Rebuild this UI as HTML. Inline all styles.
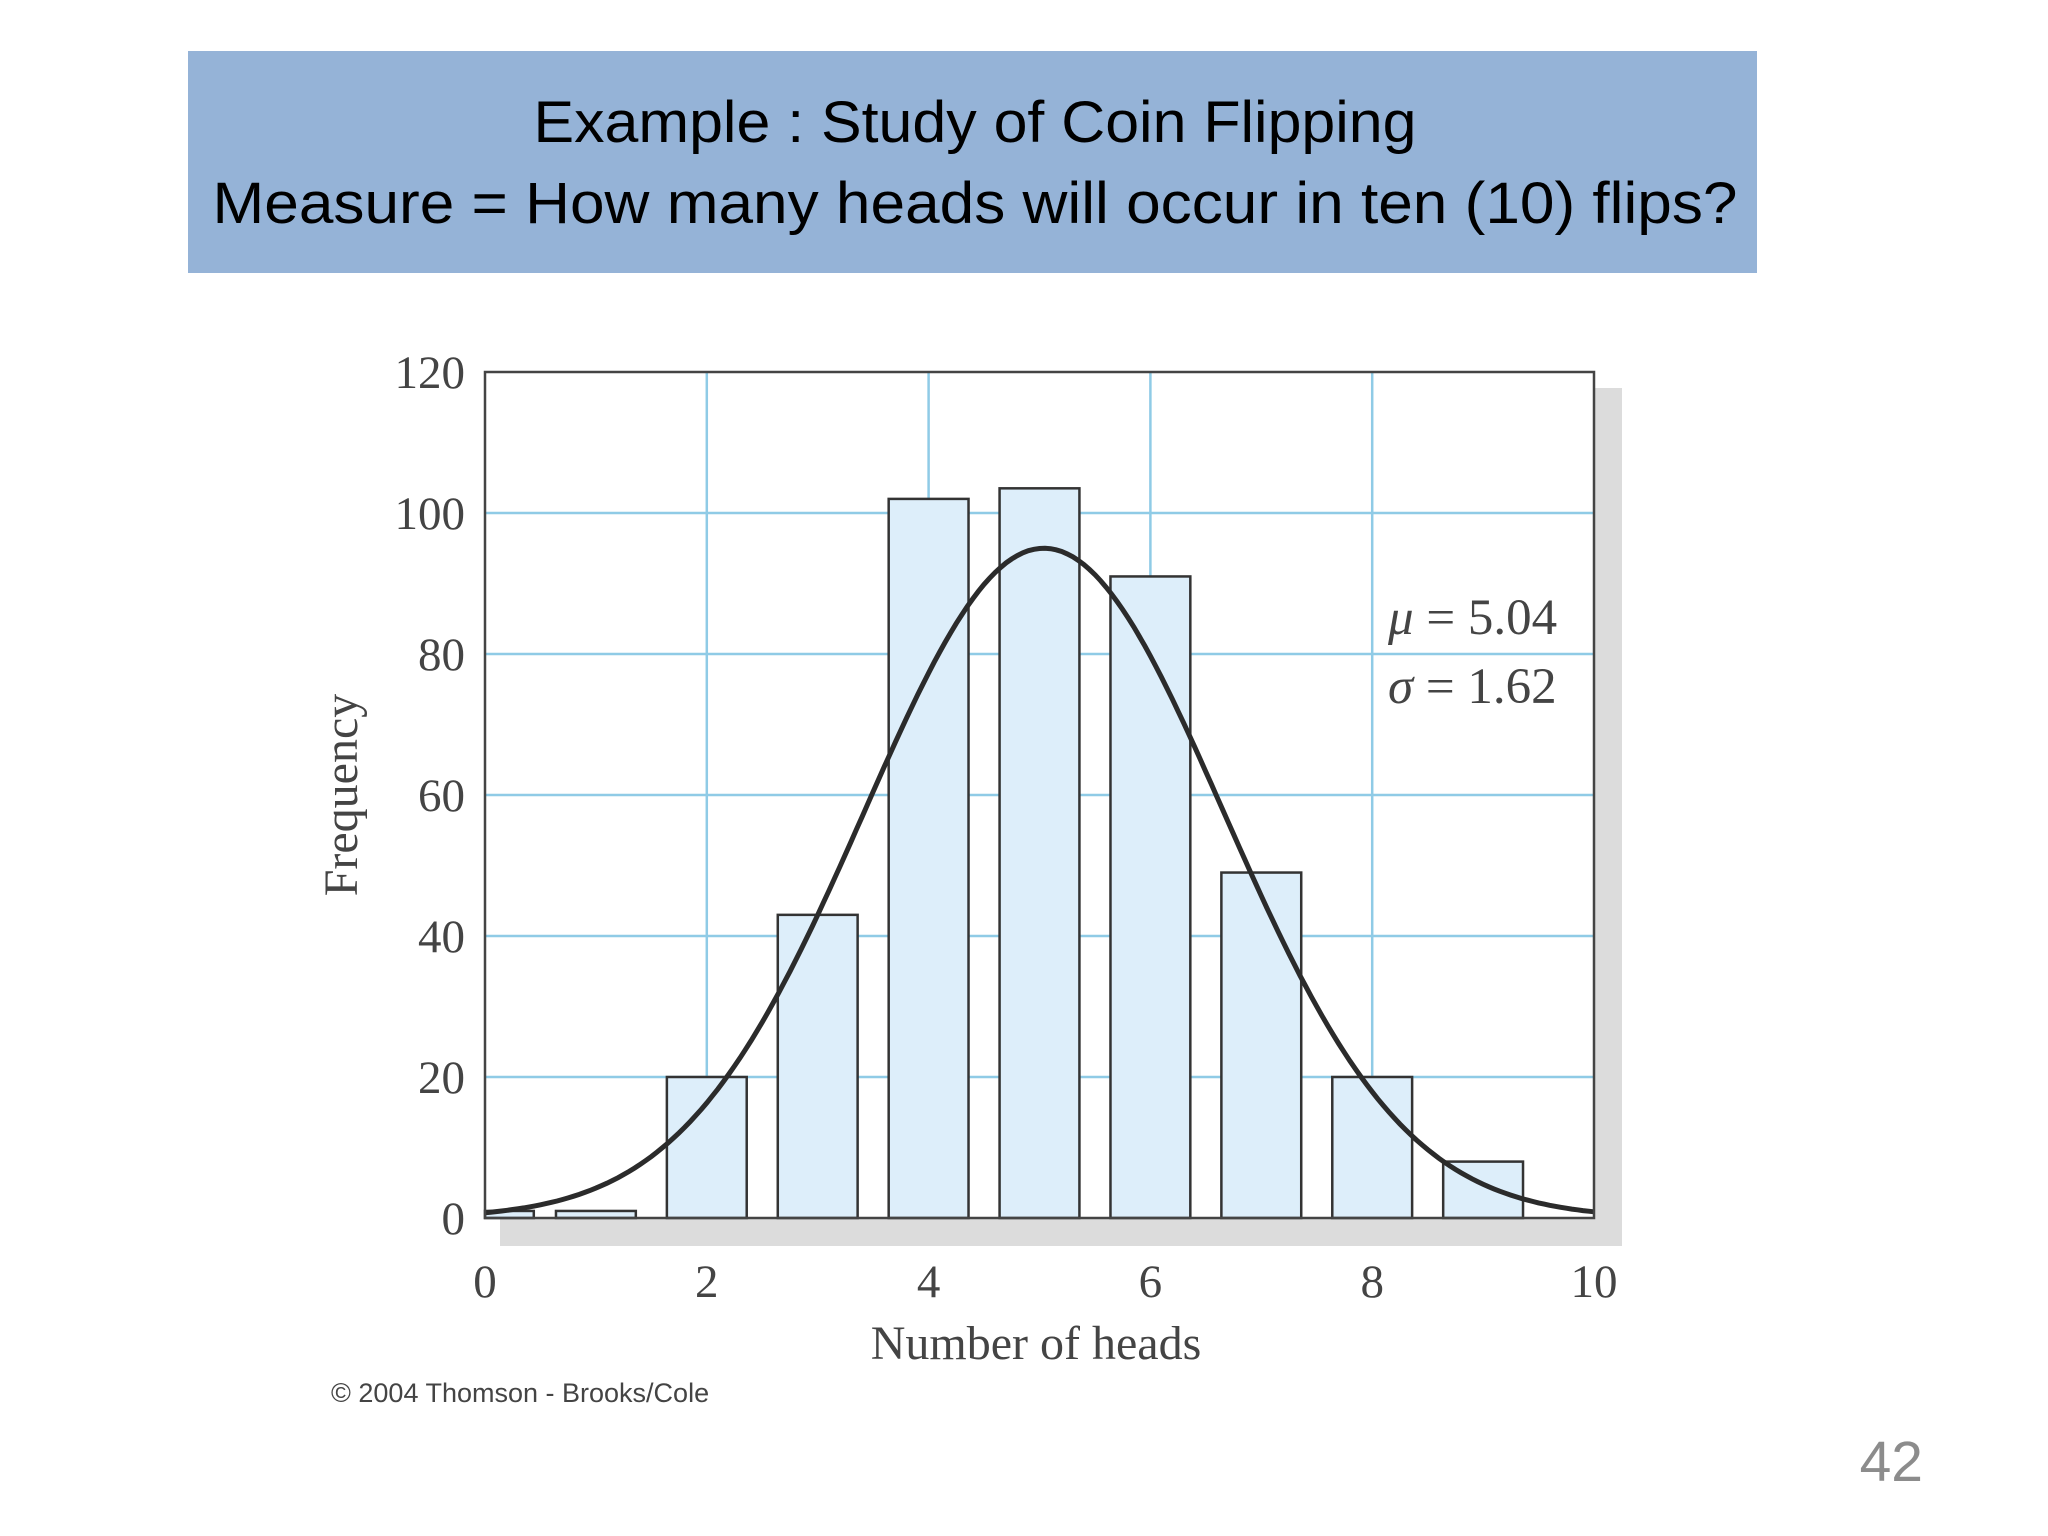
<!DOCTYPE html>
<html><head><meta charset="utf-8"><style>body{margin:0;background:#fff}svg{display:block}</style></head>
<body>
<svg id="c" width="2048" height="1536" xmlns="http://www.w3.org/2000/svg">
<rect x="188" y="51" width="1569" height="222" fill="#95b3d7"/>
<text x="975" y="142" text-anchor="middle" font-family="Liberation Sans, sans-serif" font-size="58" textLength="883" lengthAdjust="spacingAndGlyphs">Example : Study of Coin Flipping</text>
<text x="975" y="223" text-anchor="middle" font-family="Liberation Sans, sans-serif" font-size="58" textLength="1525" lengthAdjust="spacingAndGlyphs">Measure = How many heads will occur in ten (10) flips?</text>
<rect x="500" y="388" width="1122" height="858" fill="#dcdcdc"/>
<rect x="485" y="372" width="1109" height="846" fill="#fff"/>
<g id="grid"></g>
<g id="bars"></g>
<path id="curve" fill="none" stroke="#2b2b2b" stroke-width="5"/>
<rect x="485" y="372" width="1109" height="846" fill="none" stroke="#444" stroke-width="2.5"/>
<g id="ticks" font-family="Liberation Serif, serif" font-size="47" fill="#444"></g>
<text x="1388" y="634" font-family="Liberation Serif, serif" font-size="51" fill="#444"><tspan font-style="italic">μ</tspan> = 5.04</text>
<text x="1388" y="703" font-family="Liberation Serif, serif" font-size="51" fill="#444"><tspan font-style="italic">σ</tspan> = 1.62</text>
<text x="1036" y="1359" text-anchor="middle" font-family="Liberation Serif, serif" font-size="48" fill="#444">Number of heads</text>
<text transform="translate(357,795) rotate(-90)" text-anchor="middle" font-family="Liberation Serif, serif" font-size="48" fill="#444">Frequency</text>
<text x="331" y="1402" font-family="Liberation Sans, sans-serif" font-size="27" fill="#444">© 2004 Thomson - Brooks/Cole</text>
<text x="1923" y="1481" text-anchor="end" font-family="Liberation Sans, sans-serif" font-size="57" fill="#8c8c8c">42</text>
</svg>
<script>
const categories=[0,1,2,3,4,5,6,7,8,9];
const frequencies=[1,1,20,43,102,103.5,91,49,20,8];
const xTicks=[0,2,4,6,8,10];
const yTicks=[0,20,40,60,80,100,120];
const curveParams=[5.04,1.62,95];
const NS="http://www.w3.org/2000/svg";
const L=485,R=1594,T=372,B=1218;
const xs=v=>L+(v-0)/(10-0)*(R-L);
const ys=v=>B-(v-0)/(120-0)*(B-T);
function mk(tag,attrs,parent){const e=document.createElementNS(NS,tag);for(const k in attrs)e.setAttribute(k,attrs[k]);parent.appendChild(e);return e;}
const grid=document.getElementById('grid');
xTicks.forEach(t=>{if(t>0&&t<10){const l=mk('line',{x1:xs(t),x2:xs(t),y1:T,y2:B,stroke:'#8fcbe6','stroke-width':2.5},grid);

}});
yTicks.forEach(t=>{if(t>0&&t<120){const l=mk('line',{x1:L,x2:R,y1:ys(t),y2:ys(t),stroke:'#8fcbe6','stroke-width':2.5},grid);

}});
const bars=document.getElementById('bars');
const bw=0.72;
categories.forEach((c,i)=>{let x0=Math.max(0,c-bw/2),x1=c+bw/2;if(c===0)x1=0.44;
const r=mk('rect',{x:xs(x0),y:ys(frequencies[i]),width:xs(x1)-xs(x0),height:ys(0)-ys(frequencies[i]),fill:'#ddeefa',stroke:'#333','stroke-width':2.5},bars);

});
const [mu,sg,pk]=curveParams;let d='';
for(let k=0;k<=200;k++){const v=k/20;const y=pk*Math.exp(-((v-mu)**2)/(2*sg*sg));d+=(k?'L':'M')+xs(v).toFixed(1)+','+ys(y).toFixed(1);}
document.getElementById('curve').setAttribute('d',d);
const ticks=document.getElementById('ticks');
xTicks.forEach(t=>{const e=mk('text',{x:xs(t),y:1297,'text-anchor':'middle'},ticks);e.textContent=t;

});
yTicks.forEach(t=>{const e=mk('text',{x:465,y:ys(t)+16,'text-anchor':'end'},ticks);e.textContent=t;

});
</script>
</body></html>
